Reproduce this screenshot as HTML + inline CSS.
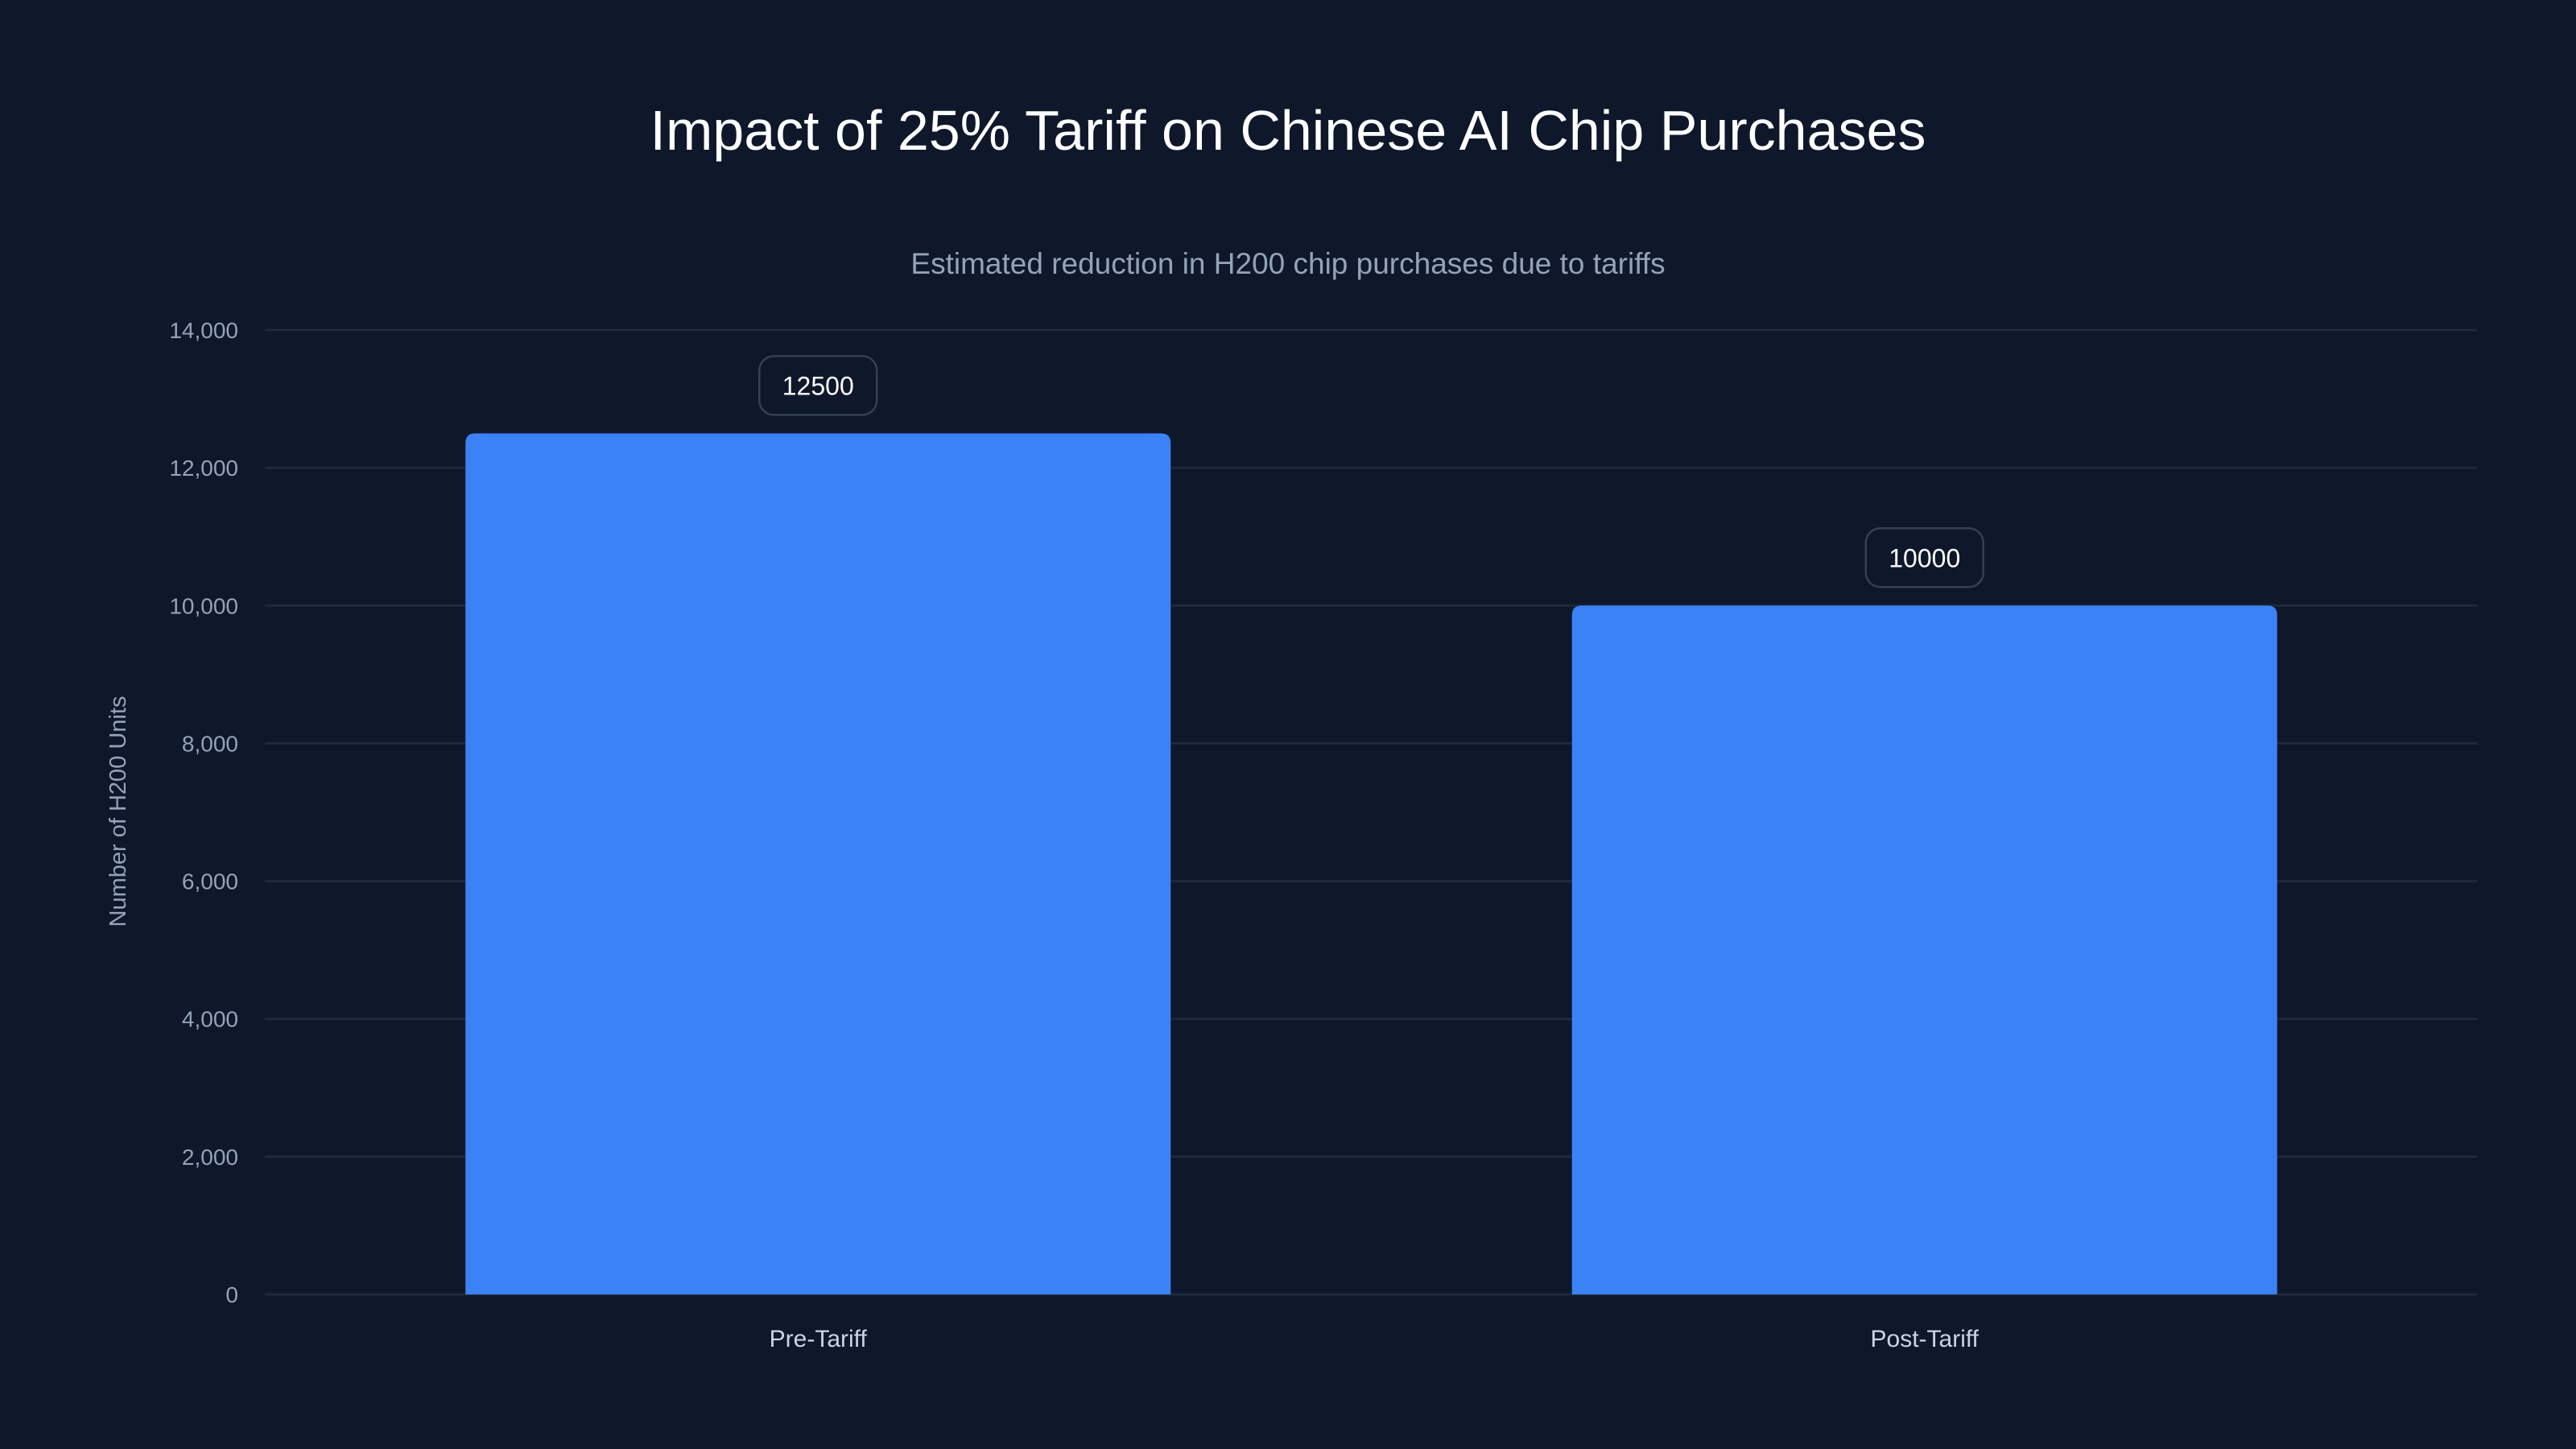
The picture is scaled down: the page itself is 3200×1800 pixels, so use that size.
<!DOCTYPE html>
<html><head><meta charset="utf-8"><style>
html,body{margin:0;padding:0;background:#0f172a;}
svg{display:block;font-family:"Liberation Sans",sans-serif;}
</style></head><body>
<svg id="chart" width="3200" height="1800" viewBox="0 0 3200 1800" xmlns="http://www.w3.org/2000/svg">
<rect width="3200" height="1800" fill="#0f172a"/>
<text x="1600" y="186" text-anchor="middle" font-size="70" fill="#ffffff">Impact of 25% Tariff on Chinese AI Chip Purchases</text>
<text x="1600" y="340" text-anchor="middle" font-size="37" fill="#94a3b8">Estimated reduction in H200 chip purchases due to tariffs</text>
<text transform="translate(156,1008) rotate(-90)" text-anchor="middle" font-size="29" fill="#94a3b8">Number of H200 Units</text>
<g id="grid"></g>
<g id="yticks"></g>
<g id="bars"></g>
<g id="xlabels"></g>
</svg>
<script>
const categories = ["Pre-Tariff", "Post-Tariff"];
const values = [12500, 10000];
const yTicks = [0, 2000, 4000, 6000, 8000, 10000, 12000, 14000];
const yTickLabels = ["0", "2,000", "4,000", "6,000", "8,000", "10,000", "12,000", "14,000"];
const yMax = 14000;

const NS = "http://www.w3.org/2000/svg";
const plotL = 329, plotR = 3078, plotT = 410, plotB = 1608;
const y = v => plotB - (v / yMax) * (plotB - plotT);
const band = (plotR - plotL) / categories.length;
const xc = i => plotL + band * (i + 0.5);
const barW = 876;
function mk(tag, attrs, parent) {
  const e = document.createElementNS(NS, tag);
  for (const k in attrs) e.setAttribute(k, attrs[k]);
  parent.appendChild(e);
  return e;
}
const grid = document.getElementById('grid'), yt = document.getElementById('yticks'),
      bars = document.getElementById('bars'), xl = document.getElementById('xlabels');
yTicks.forEach((t, i) => {
  const l = mk('line', {x1: plotL, x2: plotR, y1: y(t), y2: y(t), stroke: '#1e293b', 'stroke-width': 3}, grid);
  
  
  const tx = mk('text', {x: 296, y: y(t) + 10, 'text-anchor': 'end', 'font-size': 28, fill: '#94a3b8'}, yt);
  tx.textContent = yTickLabels[i];
  
  
});
categories.forEach((c, i) => {
  const cx = xc(i), top = y(values[i]), h = plotB - top, r = 12;
  const p = mk('path', {d: `M${cx-barW/2},${plotB} V${top+r} Q${cx-barW/2},${top} ${cx-barW/2+r},${top} H${cx+barW/2-r} Q${cx+barW/2},${top} ${cx+barW/2},${top+r} V${plotB} Z`, fill: '#3b82f6'}, bars);
  
  
  const g = mk('g', {}, bars);
  
  
  mk('rect', {x: cx - 73, y: top - 96, width: 146, height: 73, rx: 18, fill: '#0f172a', stroke: '#334155', 'stroke-width': 2.5}, g);
  const vt = mk('text', {x: cx, y: top - 48, 'text-anchor': 'middle', 'font-size': 32, fill: '#ffffff'}, g);
  vt.textContent = String(values[i]);
  const xt = mk('text', {x: cx, y: 1673, 'text-anchor': 'middle', 'font-size': 30, fill: '#cbd5e1'}, xl);
  xt.textContent = c;
  
  
});
</script>
</body></html>
